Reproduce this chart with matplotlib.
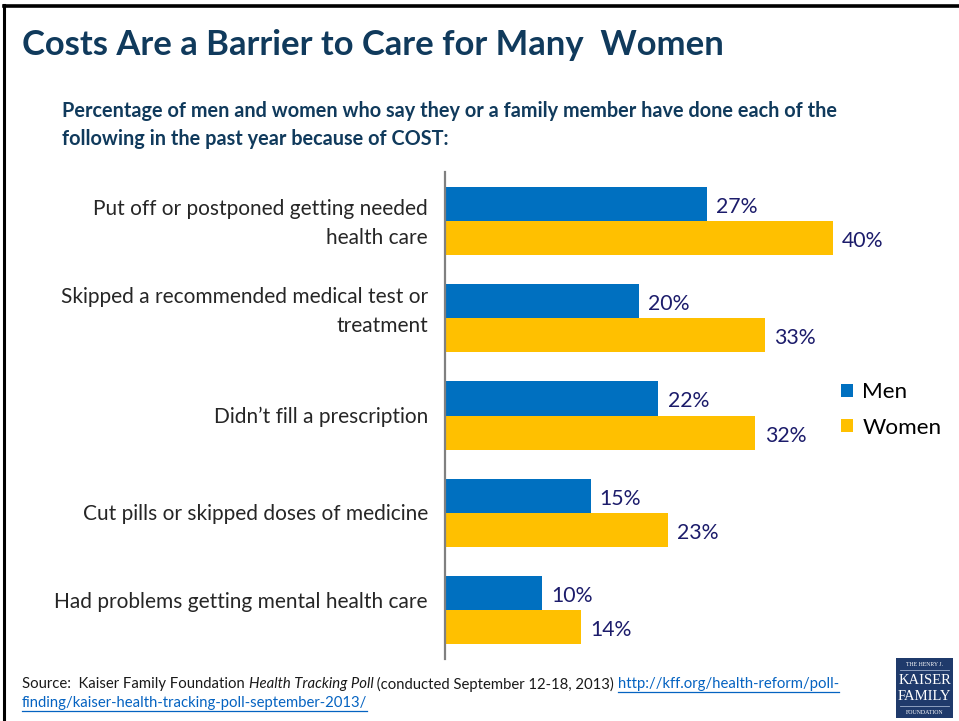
import matplotlib
matplotlib.use("Agg")
import matplotlib.pyplot as plt
from matplotlib.lines import Line2D
from matplotlib.patches import Rectangle, Patch
from matplotlib.transforms import offset_copy, blended_transform_factory

categories = [
    "Put off or postponed getting needed\nhealth care",
    "Skipped a recommended medical test or\ntreatment",
    "Didn\u2019t fill a prescription",
    "Cut pills or skipped doses of medicine",
    "Had problems getting mental health care",
]
men = [27, 20, 22, 15, 10]
women = [40, 33, 32, 23, 14]
series_names = ["Men", "Women"]

# vertical nudge (pixels, downward) of each category label
label_nudge = [2.5, -6.5, 1.5, 1.5, -8]

W, H = 959, 721
fig = plt.figure(figsize=(W / 100, H / 100), dpi=100)
plt.rcParams["font.family"] = ["Lato", "DejaVu Sans"]


def fx(px):
    return px / W


def fy(py):
    return 1 - py / H


MEN_C = "#0070C0"
WOMEN_C = "#FFC000"
LABEL_C = "#1C1C6B"
TITLE_C = "#103A5C"

# slide frame
fig.add_artist(Line2D([fx(4), fx(4)], [fy(5), fy(721)], color="black", lw=2.2,
                      transform=fig.transFigure))
fig.add_artist(Line2D([fx(4), fx(959)], [fy(6), fy(6)], color="black", lw=2.6,
                      transform=fig.transFigure))

fig.text(fx(22), fy(45), "Costs Are a Barrier to Care for Many  Women",
         fontsize=24.9, fontweight="bold", color=TITLE_C, va="center", ha="left")
fig.text(fx(62), fy(125),
         "Percentage of men and women who say they or a family member have done each of the\n"
         "following in the past year because of COST:",
         fontsize=14.3, fontweight="bold", color=TITLE_C, va="center", ha="left",
         linespacing=1.45)

# bar chart
ax_left, ax_right = 445, 930
ax_top, ax_bot = 172, 659
ax = fig.add_axes([fx(ax_left), fy(ax_bot), fx(ax_right - ax_left), (ax_bot - ax_top) / H])
ax.set_xlim(0, 50)
ax.set_ylim(len(categories) - 0.5, -0.5)

ypos = list(range(len(categories)))
bh = 0.35
ax.barh([y - bh / 2 for y in ypos], men, height=bh, color=MEN_C, label=series_names[0])
ax.barh([y + bh / 2 for y in ypos], women, height=bh, color=WOMEN_C, label=series_names[1])

lbl_tr = offset_copy(ax.transData, fig=fig, x=0, y=-3, units="dots")
for y, m, w in zip(ypos, men, women):
    ax.text(m + 0.95, y - bh / 2, f"{m}%", va="center", ha="left", fontsize=15.3,
            color=LABEL_C, transform=lbl_tr)
    ax.text(w + 0.95, y + bh / 2, f"{w}%", va="center", ha="left", fontsize=15.3,
            color=LABEL_C, transform=lbl_tr)

# category labels, right-aligned against the axis line
cat_base = blended_transform_factory(ax.transAxes, ax.transData)
for y, name, nd in zip(ypos, categories, label_nudge):
    tr = offset_copy(cat_base, fig=fig, x=-17, y=-nd, units="dots")
    ax.text(0, y, name, transform=tr, ha="right", va="center", fontsize=15,
            color="#262626", linespacing=1.55, multialignment="right")

ax.set_yticks([])
ax.set_xticks([])
for s in ["top", "right", "bottom"]:
    ax.spines[s].set_visible(False)
ax.spines["left"].set_color("#808080")
ax.spines["left"].set_linewidth(1.6)
ax.patch.set_visible(False)

handles = [Patch(facecolor=MEN_C), Patch(facecolor=WOMEN_C)]
fig.legend(handles, series_names, loc="center left", bbox_to_anchor=(fx(841), fy(410)),
           frameon=False, fontsize=16.2, handlelength=0.55, handleheight=0.55,
           handletextpad=0.4, labelspacing=0.68, borderpad=0, borderaxespad=0)

# source note
src_parts = [
    ("Source:  Kaiser Family Foundation ", "normal"),
    ("Health Tracking Poll", "italic"),
    (" (conducted September 12-18, 2013) ", "normal"),
]
fig.canvas.draw()
renderer = fig.canvas.get_renderer()
SRC_FS = 10.7
x = 22
for s, style in src_parts:
    t = fig.text(fx(x), fy(684), s, fontsize=SRC_FS, color="#1a1a1a", style=style,
                 va="center", ha="left")
    bb = t.get_window_extent(renderer)
    x += bb.width
link_c = "#0563C1"
link1 = fig.text(fx(x), fy(684), "http://kff.org/health-reform/poll-", fontsize=SRC_FS,
                 color=link_c, va="center", ha="left")
link2 = fig.text(fx(22), fy(703), "finding/kaiser-health-tracking-poll-september-2013/",
                 fontsize=SRC_FS, color=link_c, va="center", ha="left")
for lt, yy in [(link1, 684), (link2, 703)]:
    bb = lt.get_window_extent(renderer)
    fig.add_artist(Line2D([bb.x0 / W, bb.x1 / W], [fy(yy + 8), fy(yy + 8)],
                          color=link_c, lw=0.9, transform=fig.transFigure))

# foundation logo
NAVY = "#1F3A6B"
fig.add_artist(Rectangle((fx(896), fy(718)), fx(57), (718 - 658) / H,
                         facecolor=NAVY, edgecolor="none", transform=fig.transFigure))
serif = ["Liberation Serif", "DejaVu Serif"]
fig.text(fx(924.5), fy(665), "THE HENRY J.", fontsize=4.2, color="white",
         family=serif, ha="center", va="center")
fig.text(fx(924.5), fy(681), "KAISER", fontsize=10.5, color="white",
         family=serif, ha="center", va="center")
fig.text(fx(924.5), fy(697), "FAMILY", fontsize=10.5, color="white",
         family=serif, ha="center", va="center")
fig.text(fx(924.5), fy(712), "FOUNDATION", fontsize=4.2, color="white",
         family=serif, ha="center", va="center")
for yy in [670, 706]:
    fig.add_artist(Line2D([fx(900), fx(949)], [fy(yy), fy(yy)], color="#9fb0cc",
                          lw=0.6, transform=fig.transFigure))

fig.savefig("out.png", dpi=100, facecolor="white")
